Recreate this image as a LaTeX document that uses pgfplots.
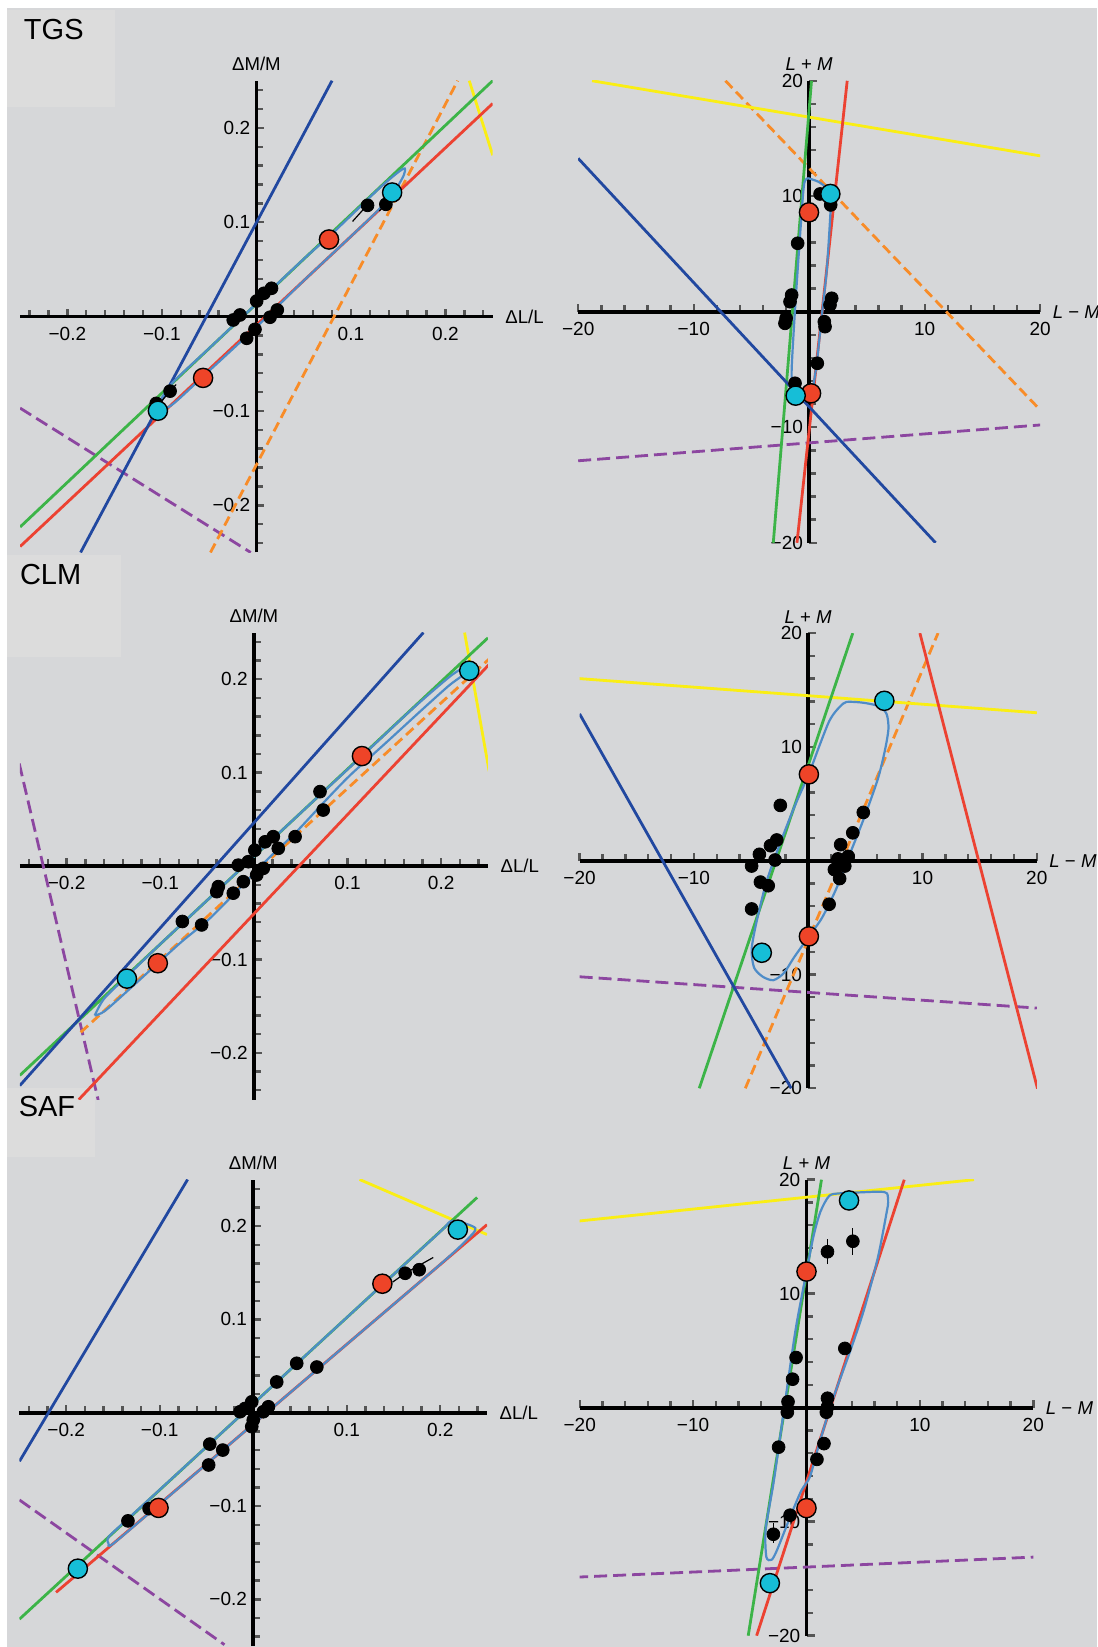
\documentclass[border=0pt]{standalone}
\usepackage{pgfplots}
\pgfplotsset{compat=1.18}
\usepackage{fontspec}
\setmainfont{Liberation Sans}

\definecolor{bggray}{RGB}{214,215,217}
\definecolor{boxgray}{RGB}{220,220,220}
\definecolor{fitblue}{RGB}{33,72,160}
\definecolor{fitgreen}{RGB}{60,180,72}
\definecolor{fitred}{RGB}{236,66,50}
\definecolor{fitorange}{RGB}{248,140,40}
\definecolor{fityellow}{RGB}{250,238,20}
\definecolor{fitpurple}{RGB}{140,70,160}
\definecolor{loopblue}{RGB}{78,140,200}
\definecolor{markcyan}{RGB}{22,190,215}
\definecolor{markred}{RGB}{238,68,40}
\definecolor{tickgray}{RGB}{85,85,85}

\pgfplotsset{
  panel/.style={
    scale only axis, anchor=south west,
    axis lines=middle,
    axis line style={line width=1.9pt,-},
    tick align=inside,
    major tick length=4pt, minor tick length=3.4pt,
    every tick/.style={tickgray,line width=1.2pt},
    tick label style={font=\fontsize{9.5}{11}\selectfont},
    xticklabel style={yshift=-1.7pt},
    yticklabel style={xshift=0.4pt},
    label style={font=\fontsize{9.3}{11}\selectfont},
    xlabel style={anchor=west,xshift=2.8pt},
    ylabel style={anchor=south,yshift=1.5pt},
    clip=true,
  },
  leftpanel/.style={panel,
    xmin=-0.25, xmax=0.25, ymin=-0.25, ymax=0.25,
    xtick={-0.2,-0.1,0.1,0.2}, xticklabels={−0.2,−0.1,0.1,0.2},
    ytick={-0.2,-0.1,0.1,0.2}, yticklabels={−0.2,−0.1,0.1,0.2},
    minor xtick={-0.24,-0.22,-0.18,-0.16,-0.14,-0.12,-0.08,-0.06,-0.04,-0.02,0.02,0.04,0.06,0.08,0.12,0.14,0.16,0.18,0.22,0.24},
    minor ytick={-0.24,-0.22,-0.18,-0.16,-0.14,-0.12,-0.08,-0.06,-0.04,-0.02,0.02,0.04,0.06,0.08,0.12,0.14,0.16,0.18,0.22,0.24},
    xlabel={ΔL/L}, ylabel={ΔM/M},
  },
  rightpanel/.style={panel,
    xmin=-20, xmax=20, ymin=-20, ymax=20,
    xtick={-20,-10,10,20}, xticklabels={−20,−10,10,20},
    ytick={-20,-10,10,20}, yticklabels={−20,−10,10,20},
    minor xtick={-18,-16,-14,-12,-8,-6,-4,-2,2,4,6,8,12,14,16,18},
    minor ytick={-18,-16,-14,-12,-8,-6,-4,-2,2,4,6,8,12,14,16,18},
    xlabel={\textit{L} − \textit{M}}, ylabel={\textit{L} + \textit{M}},
  },
  fit/.style={line width=1.4pt},
  fitdash/.style={line width=1.4pt, dash pattern=on 5pt off 2.6pt},
  purpledash/.style={fitpurple, line width=1.4pt, dash pattern=on 6.5pt off 3pt},
  hyst/.style={loopblue, line width=1.1pt, smooth, tension=0.45},
  obs/.style={only marks, mark=*, mark size=3.2pt, black},
  ebar/.style={black, line width=0.6pt},
  redpt/.style={only marks, mark=*, mark size=4.8pt, mark options={fill=markred, draw=black, line width=0.7pt}},
  cyanpt/.style={only marks, mark=*, mark size=4.8pt, mark options={fill=markcyan, draw=black, line width=0.7pt}},
}

\begin{document}
\begin{tikzpicture}
\path[use as bounding box] (0,0) rectangle (548.5pt,823.5pt);
\clip (0,0) rectangle (548.5pt,823.5pt);
\fill[white] (0,0) rectangle (548.5pt,823.5pt);
\fill[bggray] (3.5pt,0) rectangle (548.5pt,819.5pt);
% panel title boxes
\fill[boxgray] (3.5pt,770pt) rectangle (57.5pt,818.5pt);
\fill[boxgray] (3.5pt,495pt) rectangle (60.5pt,546pt);
\fill[boxgray] (3.5pt,245pt) rectangle (47.5pt,279.5pt);
\node[anchor=base west, inner sep=0pt, font=\fontsize{14.5}{16}\selectfont] at (11.8pt,803.8pt) {TGS};
\node[anchor=base west, inner sep=0pt, font=\fontsize{14.5}{16}\selectfont] at (9.8pt,531pt) {CLM};
\node[anchor=base west, inner sep=0pt, font=\fontsize{14.5}{16}\selectfont] at (9.2pt,265.2pt) {SAF};

% ---------------- TGS, fractional changes ----------------
\begin{axis}[leftpanel, at={(10.05pt,547.25pt)}, width=236.3pt, height=235.9pt]
\addplot[purpledash] coordinates {(-0.25,-0.097) (-0.006,-0.25)};
\addplot[fitorange, fitdash] coordinates {(-0.0486,-0.25) (0.213,0.25)};
\addplot[fityellow, fit] coordinates {(0.2252,0.25) (0.25,0.171)};
\addplot[fitred, fit] coordinates {(-0.25,-0.2437) (0.25,0.2258)};
\addplot[fitgreen, fit] coordinates {(-0.25,-0.223) (0.25,0.250)};
\addplot[fitblue, fit] coordinates {(-0.186,-0.25) (0.080,0.25)};
\addplot[hyst] coordinates {(-0.108,-0.100) (-0.09,-0.0715) (-0.05,-0.0336) (0,0.0137) (0.05,0.061) (0.077,0.0850) (0.10,0.107) (0.13,0.136) (0.150,0.153) (0.157,0.157) (0.156,0.150) (0.148,0.136) (0.13,0.114) (0.10,0.085) (0.05,0.038) (0,-0.011) (-0.056,-0.063) (-0.09,-0.094) (-0.108,-0.100)};
\addplot[ebar] coordinates {(0.1017,0.1008) (0.122,0.1235)};
\addplot[ebar] coordinates {(0.130,0.112) (0.146,0.127)};
\addplot[ebar] coordinates {(-0.113,-0.104) (-0.085,-0.072)};
\addplot[obs] coordinates {(0.0003,0.0165) (0.008,0.0247) (0.016,0.030) (-0.0245,-0.0036) (-0.0174,0.0017) (0.0144,-0.0007) (0.0221,0.007) (-0.0103,-0.023) (-0.0015,-0.0135) (0.1176,0.1179) (0.137,0.119) (-0.0913,-0.079) (-0.106,-0.092)};
\addplot[redpt] coordinates {(0.0768,0.0817) (-0.0564,-0.0650)};
\addplot[cyanpt] coordinates {(0.1436,0.1315) (-0.1042,-0.0998)};
\end{axis}

% ---------------- TGS, cone contrast ----------------
\begin{axis}[rightpanel, at={(289.1pt,552.1pt)}, width=231pt, height=231pt]
\addplot[purpledash] coordinates {(-20,-12.9) (20,-9.8)};
\addplot[fitorange, fitdash] coordinates {(-7.25,20) (20,-8.5)};
\addplot[fityellow, fit] coordinates {(-18.8,20) (20,13.5)};
\addplot[fitred, fit] coordinates {(3.29,20) (-1.06,-20)};
\addplot[fitgreen, fit] coordinates {(0.2,20) (-3.11,-20)};
\addplot[fitblue, fit] coordinates {(-20,13.28) (10.94,-20)};
\addplot[hyst] coordinates {(-0.08,11.56) (0.79,11.26) (1.52,10.7) (1.83,10.0) (1.85,8.8) (1.52,3.62) (1.08,-0.42) (0.65,-4.46) (0.22,-7.06) (-0.3,-7.7) (-0.9,-7.6) (-1.4,-6.8) (-1.52,-5.04) (-1.23,0.16) (-0.8,6.5) (-0.45,11.0) (-0.08,11.56)};
\addplot[obs] coordinates {(0.94,10.2) (1.86,9.25) (-1.0,5.93) (-1.52,1.45) (-1.66,0.87) (-2.0,-0.56) (-2.1,-1.0) (1.95,1.17) (1.8,0.59) (1.31,-0.86) (1.37,-1.29) (0.7,-4.46) (-1.23,-6.19)};
\addplot[redpt] coordinates {(-0.02,8.61) (0.16,-7.06)};
\addplot[cyanpt] coordinates {(1.83,10.2) (-1.17,-7.26)};
\end{axis}

% ---------------- CLM, fractional changes ----------------
\begin{axis}[leftpanel, at={(9.9pt,273.7pt)}, width=234.1pt, height=233.5pt]
\addplot[purpledash] coordinates {(-0.2506,0.1098) (-0.1663,-0.2505)};
\addplot[fitorange, fitdash] coordinates {(-0.185,-0.178) (0.2513,0.2218)};
\addplot[fityellow, fit] coordinates {(0.225,0.25) (0.2513,0.1013)};
\addplot[fitred, fit] coordinates {(-0.187,-0.25) (0.2513,0.216)};
\addplot[fitgreen, fit] coordinates {(-0.25,-0.2241) (0.25,0.2444)};
\addplot[fitblue, fit] coordinates {(-0.25,-0.235) (0.181,0.25)};
\addplot[hyst] coordinates {(-0.170,-0.160) (-0.16,-0.142) (-0.1356,-0.118) (-0.1,-0.0835) (-0.05,-0.0367) (0,0.0102) (0.05,0.057) (0.1154,0.1178) (0.17,0.169) (0.21,0.2035) (0.226,0.213) (0.225,0.206) (0.208,0.193) (0.178,0.166) (0.141,0.132) (0.103,0.0975) (0.077,0.0707) (0.045,0.0363) (0.017,0.0096) (-0.009,-0.0172) (-0.0464,-0.0554) (-0.0764,-0.0803) (-0.1026,-0.104) (-0.1288,-0.128) (-0.159,-0.155) (-0.170,-0.160)};
\addplot[obs] coordinates {(0.001,0.017) (0.012,0.026) (0.0207,0.0315) (0.026,0.019) (0.044,0.0315) (-0.0167,0.001) (-0.006,0.0047) (0.010,-0.0024) (0.003,-0.0095) (-0.0113,-0.0167) (-0.038,-0.022) (-0.0397,-0.0274) (-0.022,-0.029) (0.0706,0.0797) (0.074,0.060) (-0.0764,-0.0593) (-0.0558,-0.063)};
\addplot[redpt] coordinates {(0.1154,0.1178) (-0.1026,-0.104)};
\addplot[cyanpt] coordinates {(0.23,0.2092) (-0.1356,-0.1205)};
\end{axis}

% ---------------- CLM, cone contrast ----------------
\begin{axis}[rightpanel, at={(289.8pt,279.35pt)}, width=228.6pt, height=227.6pt]
\addplot[purpledash] coordinates {(-20,-10.2) (20,-12.95)};
\addplot[fitorange, fitdash] coordinates {(-5.5,-20) (11.36,20)};
\addplot[fityellow, fit] coordinates {(-20,16) (20,13)};
\addplot[fitred, fit] coordinates {(9.77,20) (20.09,-20.14)};
\addplot[fitgreen, fit] coordinates {(-9.53,-20) (3.9,20)};
\addplot[fitblue, fit] coordinates {(-20,12.9) (-1.49,-20)};
\addplot[hyst] coordinates {(0.06,7.59) (1.83,12.24) (3.05,13.8) (3.66,13.96) (4.89,13.87) (6.26,13.55) (6.87,12.86) (7.02,11.6) (6.72,9.73) (6.1,7.2) (4.89,3.76) (3.66,0.63) (2.44,-2.5) (1.22,-5.0) (0.06,-6.65) (-1.22,-8.47) (-2.14,-9.88) (-3.05,-10.5) (-3.97,-10.2) (-4.73,-9.41) (-4.95,-7.84) (-4.58,-5.65) (-3.66,-1.88) (-2.44,1.57) (-1.22,4.7) (0.06,7.59)};
\addplot[obs] coordinates {(-2.44,4.86) (-2.75,1.82) (-3.3,1.32) (-4.27,0.56) (-4.95,-0.47) (-2.9,0.06) (-4.18,-1.88) (-3.5,-2.2) (-4.95,-4.24) (4.82,4.24) (3.9,2.45) (2.84,1.41) (3.5,0.38) (2.6,0.16) (3.2,-0.47) (2.29,-0.78) (2.75,-1.57) (1.83,-3.83)};
\addplot[redpt] coordinates {(0.06,7.59) (0.06,-6.65)};
\addplot[cyanpt] coordinates {(6.66,14.05) (-4.06,-8.09)};
\end{axis}

% ---------------- SAF, fractional changes ----------------
\begin{axis}[leftpanel, at={(9.75pt,0.5pt)}, width=233.75pt, height=233.25pt]
\addplot[purpledash] coordinates {(-0.25,-0.0935) (-0.0308,-0.2486)};
\addplot[fityellow, fit] coordinates {(0.1137,0.25) (0.25,0.191)};
\addplot[fitred, fit] coordinates {(-0.2109,-0.1925) (0.25,0.2016)};
\addplot[fitgreen, fit] coordinates {(-0.25,-0.2212) (0.2394,0.2307)};
\addplot[fitblue, fit] coordinates {(-0.25,-0.052) (-0.0702,0.25)};
\addplot[hyst] coordinates {(-0.1546,-0.1402) (-0.1546,-0.133) (-0.13,-0.110) (-0.05,-0.0365) (0,0.0097) (0.1381,0.1372) (0.2,0.194) (0.213,0.2056) (0.2375,0.198) (0.228,0.185) (0.2,0.159) (0.1,0.0733) (0,-0.0122) (-0.1013,-0.099) (-0.15,-0.1405) (-0.1546,-0.1402)};
\addplot[ebar] coordinates {(0.1625,0.1495) (0.1925,0.1664)};
\addplot[ebar] coordinates {(0.149,0.140) (0.1625,0.1495)};
\addplot[obs] coordinates {(0.0465,0.053) (0.068,0.049) (0.0251,0.0330) (-0.0016,0.0117) (-0.0088,0.0046) (-0.0141,0.0011) (0.0162,0.0064) (0.0108,0.0011) (0,-0.0078) (-0.0016,-0.0149) (0.1775,0.1533) (0.1625,0.1495) (-0.0465,-0.0336) (-0.0326,-0.04) (-0.0477,-0.056) (-0.1114,-0.1028) (-0.134,-0.1159)};
\addplot[redpt] coordinates {(-0.1013,-0.102) (0.1381,0.1383)};
\addplot[cyanpt] coordinates {(-0.1876,-0.1671) (0.2188,0.1963)};
\end{axis}

% ---------------- SAF, cone contrast ----------------
\begin{axis}[rightpanel, at={(289.85pt,5.65pt)}, width=226.8pt, height=228pt]
\addplot[purpledash] coordinates {(-20.4,-14.87) (20.15,-13.1)};
\addplot[fityellow, fit] coordinates {(-20.4,16.34) (14.77,20)};
\addplot[fitred, fit] coordinates {(-4.4,-20) (8.62,20)};
\addplot[fitgreen, fit] coordinates {(-5.14,-20) (1.32,20)};
\addplot[hyst] coordinates {(0,11.94) (0.62,15.06) (1.23,17.2) (2.0,18.58) (2.92,18.8) (5.0,18.9) (6.5,18.95) (7.1,18.8) (7.2,18.0) (7.08,17.2) (6.3,13.2) (5.08,8.63) (3.85,4.96) (2.3,0.67) (1.08,-3.3) (0.3,-6.06) (-0.46,-7.28) (-1.38,-9.43) (-2.6,-12.49) (-3.08,-13.34) (-3.54,-13.1) (-3.6,-10.65) (-2.92,-6.67) (-2.3,-2.39) (-1.69,1.9) (-0.92,7.1) (0,11.94)};
\addplot[ebar] coordinates {(1.85,12.6) (1.85,14.8)};
\addplot[ebar] coordinates {(4.09,13.4) (4.09,15.8)};
\addplot[ebar] coordinates {(-2.92,-10.1) (-2.92,-11.9)};
\addplot[obs] coordinates {(1.85,13.68) (4.09,14.6) (3.38,5.2) (-0.92,4.4) (-1.23,2.5) (-1.63,0.52) (-1.69,-0.4) (1.85,0.83) (1.85,0.06) (1.75,-0.4) (-2.46,-3.46) (1.54,-3.15) (0.92,-4.53) (-1.45,-9.43) (-2.92,-11.1)};
\addplot[redpt] coordinates {(0,11.94) (0,-8.81)};
\addplot[cyanpt] coordinates {(3.75,18.18) (-3.23,-15.39)};
\end{axis}
\end{tikzpicture}
\end{document}
